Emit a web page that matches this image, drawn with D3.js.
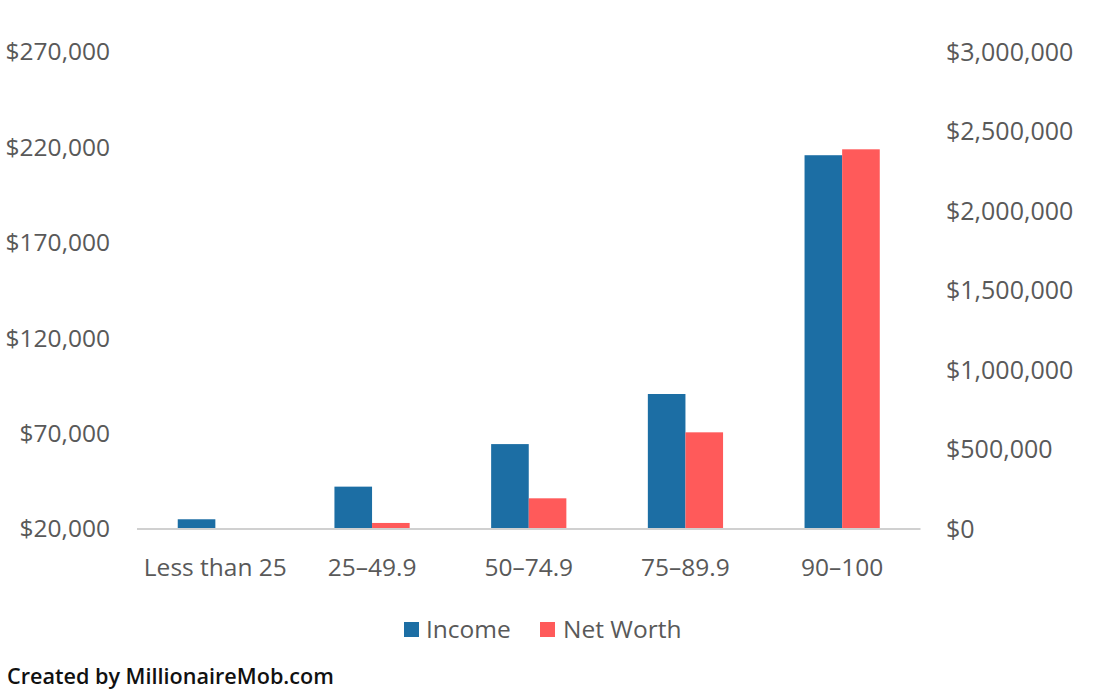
<!DOCTYPE html>
<html><head><meta charset="utf-8">
<script src="https://cdn.jsdelivr.net/npm/d3@7"></script>
<style>body{margin:0;background:#fff}svg{display:block}</style>
</head><body><svg id="c" width="1100" height="700"></svg>
<script>
const categories = ["Less than 25", "25–49.9", "50–74.9", "75–89.9", "90–100"];
const income = [25100, 42200, 64500, 90750, 215900];
const netWorth = [0, 38000, 193000, 608000, 2388000];
const leftTicks = [20000, 70000, 120000, 170000, 220000, 270000];
const rightTicks = [0, 500000, 1000000, 1500000, 2000000, 2500000, 3000000];
const seriesNames = ["Income", "Net Worth"];
const colors = ["#1c6ea4", "#ff5a5a"];

const svg = d3.select("#c");
const font = "'Open Sans', 'Noto Sans', sans-serif";
const fs = 24.5;
const x0 = d3.scaleBand().domain(categories).range([137, 920.5]).paddingInner(0.52).paddingOuter(0.26);
const x1 = d3.scaleBand().domain(seriesNames).range([0, x0.bandwidth()]);
const yL = d3.scaleLinear().domain([20000, 270000]).range([529, 52]);
const yR = d3.scaleLinear().domain([0, 3000000]).range([529, 52]);
const fmt = d3.format("$,");

// left axis
const la = svg.append("g").attr("transform", "translate(110,0)")
  .call(d3.axisLeft(yL).tickValues(leftTicks).tickFormat(fmt).tickSize(0).tickPadding(0));
la.select(".domain").remove();
la.selectAll("text").attr("font-family", font).attr("font-size", fs).attr("fill", "#595959");

// right axis
const ra = svg.append("g").attr("transform", "translate(946,0)")
  .call(d3.axisRight(yR).tickValues(rightTicks).tickFormat(fmt).tickSize(0).tickPadding(0));
ra.select(".domain").remove();
ra.selectAll("text").attr("font-family", font).attr("font-size", 25).attr("fill", "#595959");

// bars
const g = svg.append("g");
categories.forEach((c, i) => {
  g.append("rect").attr("x", x0(c) + x1("Income")).attr("width", x1.bandwidth())
    .attr("y", yL(income[i])).attr("height", yL(20000) - yL(income[i])).attr("fill", colors[0]);
  if (netWorth[i] > 0)
    g.append("rect").attr("x", x0(c) + x1("Net Worth")).attr("width", x1.bandwidth())
      .attr("y", yR(netWorth[i])).attr("height", yR(0) - yR(netWorth[i])).attr("fill", colors[1]);
});

// baseline
svg.append("line").attr("x1", 137).attr("x2", 920.5).attr("y1", 529).attr("y2", 529)
  .attr("stroke", "#d0d0d0").attr("stroke-width", 2);

// category labels
const xa = svg.append("g").attr("transform", "translate(0,529)")
  .call(d3.axisBottom(x0).tickSize(0).tickPadding(0));
xa.select(".domain").remove();
xa.selectAll("text").attr("dy", null).attr("y", 47).attr("font-family", font).attr("font-size", fs).attr("fill", "#595959");

// legend
const leg = [{x: 404, tx: 426}, {x: 540, tx: 563}];
seriesNames.forEach((s, i) => {
  svg.append("rect").attr("x", leg[i].x).attr("y", 622).attr("width", 15).attr("height", 15).attr("fill", colors[i]);
  svg.append("text").attr("x", leg[i].tx).attr("y", 638).attr("font-family", font).attr("font-size", fs)
    .attr("fill", "#595959").text(s);
});

svg.append("text").attr("x", 7).attr("y", 684).attr("font-family", font).attr("font-size", 21.6)
  .attr("font-weight", 600).attr("fill", "#111").text("Created by MillionaireMob.com");
</script></body></html>
